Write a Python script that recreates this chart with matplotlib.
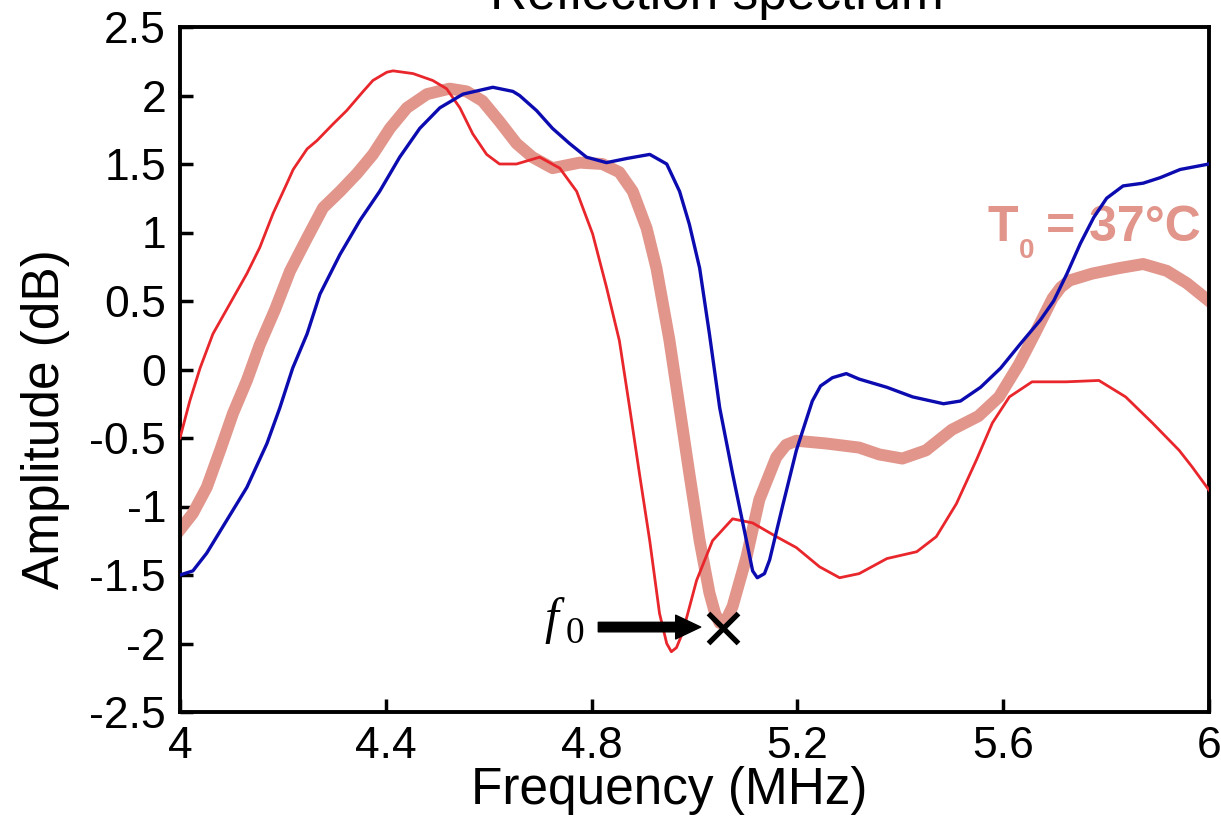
import matplotlib
matplotlib.use('Agg')
import matplotlib.pyplot as plt

# === 1. Données (fréquence en MHz, amplitude en dB) ===
freq_red = [4.000, 4.019, 4.039, 4.064, 4.097, 4.130, 4.155, 4.181, 4.208, 4.220,
            4.247, 4.266, 4.297, 4.324, 4.356, 4.375, 4.402, 4.414, 4.453, 4.491,
            4.518, 4.544, 4.569, 4.596, 4.621, 4.654, 4.699, 4.738, 4.771, 4.802,
            4.829, 4.854, 4.874, 4.893, 4.913, 4.932, 4.946, 4.955, 4.965, 4.977,
            5.004, 5.035, 5.074, 5.113, 5.159, 5.198, 5.243, 5.282, 5.320, 5.374,
            5.432, 5.470, 5.509, 5.548, 5.579, 5.612, 5.656, 5.722, 5.786, 5.838,
            5.890, 5.942, 5.967, 6.000]
amp_red  = [-0.50, -0.23, 0.01, 0.26, 0.48, 0.70, 0.89, 1.14, 1.36, 1.46,
            1.61, 1.67, 1.79, 1.89, 2.03, 2.11, 2.17, 2.18, 2.16, 2.11,
            2.05, 1.91, 1.72, 1.57, 1.50, 1.50, 1.55, 1.47, 1.30, 0.99,
            0.60, 0.21, -0.28, -0.76, -1.25, -1.78, -2.00, -2.06, -2.03, -1.92,
            -1.54, -1.25, -1.09, -1.12, -1.22, -1.30, -1.44, -1.52, -1.49, -1.38,
            -1.33, -1.22, -0.98, -0.66, -0.39, -0.20, -0.09, -0.09, -0.08, -0.20,
            -0.39, -0.59, -0.71, -0.88]

freq_blue = [4.000, 4.025, 4.052, 4.091, 4.130, 4.169, 4.194, 4.219, 4.247, 4.272,
             4.311, 4.350, 4.388, 4.427, 4.466, 4.505, 4.550, 4.608, 4.647, 4.660,
             4.693, 4.724, 4.757, 4.790, 4.829, 4.868, 4.913, 4.946, 4.971, 4.990,
             5.010, 5.029, 5.049, 5.074, 5.101, 5.113, 5.122, 5.136, 5.146, 5.171,
             5.198, 5.229, 5.245, 5.268, 5.295, 5.320, 5.374, 5.424, 5.484, 5.517,
             5.556, 5.595, 5.634, 5.672, 5.698, 5.724, 5.750, 5.776, 5.801, 5.833,
             5.872, 5.905, 5.944, 6.000]
amp_blue  = [-1.50, -1.47, -1.34, -1.10, -0.86, -0.54, -0.28, 0.01, 0.26, 0.55,
             0.84, 1.09, 1.30, 1.55, 1.76, 1.91, 2.01, 2.06, 2.03, 2.00,
             1.89, 1.76, 1.65, 1.55, 1.51, 1.54, 1.57, 1.50, 1.30, 1.06,
             0.74, 0.26, -0.28, -0.76, -1.25, -1.47, -1.52, -1.49, -1.39, -1.00,
             -0.59, -0.23, -0.12, -0.06, -0.03, -0.07, -0.13, -0.20, -0.25, -0.23,
             -0.13, 0.01, 0.19, 0.36, 0.50, 0.70, 0.92, 1.11, 1.25, 1.34,
             1.36, 1.40, 1.46, 1.50]

freq_t0 = [4.000, 4.025, 4.052, 4.078, 4.103, 4.130, 4.155, 4.185, 4.214, 4.247,
           4.278, 4.311, 4.344, 4.375, 4.408, 4.441, 4.480, 4.524, 4.557, 4.588,
           4.621, 4.654, 4.685, 4.724, 4.777, 4.821, 4.854, 4.880, 4.907, 4.926,
           4.951, 4.971, 4.990, 5.010, 5.029, 5.040, 5.049, 5.060, 5.074, 5.101,
           5.126, 5.159, 5.178, 5.198, 5.256, 5.320, 5.359, 5.404, 5.450, 5.500,
           5.552, 5.592, 5.631, 5.664, 5.696, 5.712, 5.729, 5.773, 5.825, 5.872,
           5.918, 5.957, 6.000]
amp_t0  = [-1.17, -1.05, -0.86, -0.59, -0.32, -0.08, 0.18, 0.44, 0.72, 0.96,
           1.18, 1.30, 1.43, 1.57, 1.76, 1.91, 2.01, 2.05, 2.03, 1.96,
           1.81, 1.65, 1.55, 1.47, 1.51, 1.50, 1.44, 1.30, 1.03, 0.74,
           0.22, -0.28, -0.76, -1.25, -1.63, -1.78, -1.85, -1.84, -1.73, -1.37,
           -0.95, -0.64, -0.55, -0.52, -0.54, -0.57, -0.62, -0.65, -0.59, -0.44,
           -0.34, -0.20, 0.04, 0.28, 0.52, 0.60, 0.65, 0.70, 0.74, 0.77,
           0.72, 0.63, 0.50]

# fréquence de résonance marquée par la croix
f0_freq = 5.055
f0_amp  = -1.89

x_ticks  = [4, 4.4, 4.8, 5.2, 5.6, 6]
x_labels = ['4', '4.4', '4.8', '5.2', '5.6', '6']
y_ticks  = [-2.5, -2, -1.5, -1, -0.5, 0, 0.5, 1, 1.5, 2, 2.5]
y_labels = ['-2.5', '-2', '-1.5', '-1', '-0.5', '0', '0.5', '1', '1.5', '2', '2.5']

red    = '#e8262b'
blue   = '#0b0bb0'
salmon = '#e1958b'

plt.rcParams['font.family'] = ['Liberation Sans', 'DejaVu Sans']

# === 2. Figure ===
fig = plt.figure(figsize=(12.21, 8.32), dpi=100)
ax  = fig.add_axes([180 / 1221, 120 / 832, 1029 / 1221, 685 / 832])

ax.plot(freq_t0, amp_t0, color=salmon, lw=8.6, solid_joinstyle='round', zorder=2)
ax.plot(freq_red, amp_red, color=red, lw=2.0, solid_joinstyle='round', zorder=3)
ax.plot(freq_blue, amp_blue, color=blue, lw=2.4, solid_joinstyle='round', zorder=4)

ax.plot([f0_freq], [f0_amp], marker='x', color='black', markersize=21,
        markeredgewidth=3.8, zorder=6)

# flèche vers f0
ax.annotate('', xy=(5.012, -1.88), xytext=(4.813, -1.88),
            arrowprops=dict(arrowstyle='simple,head_length=1.0,head_width=0.95,tail_width=0.38',
                            mutation_scale=18, color='black', shrinkA=0, shrinkB=0),
            zorder=6)
ax.text(4.708, -1.924, 'f', family=['Liberation Serif', 'DejaVu Serif'], style='italic',
        fontsize=36, ha='left', va='baseline')
ax.text(4.750, -1.997, '0', family=['Liberation Serif', 'DejaVu Serif'],
        fontsize=27, ha='left', va='baseline')

# étiquette T0 = 37°C
ax.text(5.570, 0.94, 'T', color=salmon, fontsize=36, fontweight='bold',
        ha='left', va='baseline', zorder=1)
ax.text(5.630, 0.816, '0', color=salmon, fontsize=20, fontweight='bold',
        ha='left', va='baseline', zorder=1)
ax.text(5.683, 0.94, '= 37°C', color=salmon, fontsize=36, fontweight='bold',
        ha='left', va='baseline', zorder=1)

# === 3. Axes ===
ax.set_xlim(4, 6)
ax.set_ylim(-2.5, 2.5)
ax.set_xticks(x_ticks)
ax.set_xticklabels(x_labels)
ax.set_yticks(y_ticks)
ax.set_yticklabels(y_labels)
ax.tick_params(direction='in', length=9.5, width=2.5, labelsize=32, pad=10,
               top=False, right=False)
for s in ax.spines.values():
    s.set_linewidth(2.8)

ax.text(0.475, -0.114, 'Frequency (MHz)', transform=ax.transAxes, fontsize=37,
        ha='center', va='center')
ax.text(-0.131, 0.428, 'Amplitude (dB)', transform=ax.transAxes, fontsize=37,
        rotation=90, ha='center', va='center')
# le titre est coupé en haut, comme sur la figure d'origine
ax.text(0.522, 1.026, 'Reflection spectrum', transform=ax.transAxes, fontsize=37,
        ha='center', va='baseline')

fig.savefig('out.png', dpi=100)
